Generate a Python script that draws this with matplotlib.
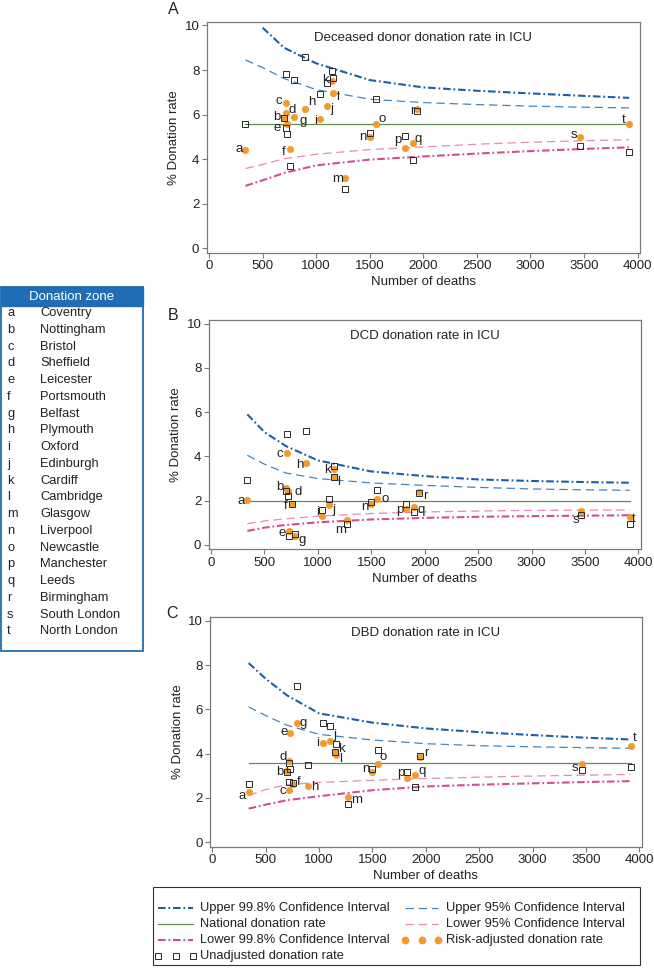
import numpy as np
import matplotlib
matplotlib.use('Agg')
import matplotlib.pyplot as plt
from matplotlib.lines import Line2D
from matplotlib.patches import Rectangle

plt.rcParams['font.family'] = ['Liberation Sans', 'DejaVu Sans']
plt.rcParams['lines.scale_dashes'] = False

# ---------------- data ----------------
zones = list('abcdefghijklmnopqrst')
zone_names = ['Coventry', 'Nottingham', 'Bristol', 'Sheffield', 'Leicester',
              'Portsmouth', 'Belfast', 'Plymouth', 'Oxford', 'Edinburgh',
              'Cardiff', 'Cambridge', 'Glasgow', 'Liverpool', 'Newcastle',
              'Manchester', 'Leeds', 'Birmingham', 'South London', 'North London']
deaths = [340, 700, 714, 722, 728, 757, 790, 893, 1038, 1100,
          1152, 1155, 1272, 1500, 1556, 1826, 1902, 1944, 3465, 3920]

ci_deaths = [340, 500, 700, 1000, 1500, 2000, 2500, 3000, 3500, 3920]

# Panel A: deceased donor donation rate
a_risk = [4.40, 5.85, 6.52, 6.07, 5.57, 4.46, 5.87, 6.24, 5.82, 6.38,
          7.50, 6.99, 3.16, 4.99, 5.57, 4.52, 4.73, 6.25, 5.01, 5.59]
a_unadj = [5.60, 5.85, 7.82, 5.38, 5.15, 3.70, 7.55, 8.60, 6.92, 7.40,
           7.95, 7.65, 2.65, 5.19, 6.69, 5.02, 3.96, 6.18, 4.59, 4.34]
a_national = 5.57
a_up998 = [np.nan, 9.9, 9.0, 8.3, 7.55, 7.22, 7.07, 6.95, 6.84, 6.75]
a_up95 = [8.45, 8.11, 7.62, 7.12, 6.69, 6.54, 6.45, 6.38, 6.33, 6.30]
a_lo95 = [3.58, 3.76, 4.02, 4.22, 4.43, 4.55, 4.67, 4.76, 4.83, 4.87]
a_lo998 = [2.80, 3.05, 3.38, 3.72, 3.98, 4.12, 4.25, 4.36, 4.46, 4.53]

# Panel B: DCD donation rate
b_risk = [2.05, 2.57, 4.15, 2.45, 0.62, 1.83, 0.42, 3.70, 1.31, 1.82,
          3.43, 3.05, 1.13, 1.85, 2.08, 1.62, 1.71, 2.41, 1.52, 1.26]
b_unadj = [2.92, 2.42, 5.03, 2.23, 0.39, 1.83, 0.50, 5.13, 1.56, 2.08,
           3.58, 3.05, 0.96, 1.95, 2.50, 1.86, 1.47, 2.35, 1.35, 0.96]
b_national = 1.98
b_up998 = [5.90, 5.10, 4.47, 3.82, 3.32, 3.11, 2.96, 2.89, 2.84, 2.81]
b_up95 = [4.05, 3.65, 3.25, 3.00, 2.80, 2.69, 2.60, 2.53, 2.49, 2.47]
b_lo95 = [0.96, 1.08, 1.18, 1.30, 1.42, 1.49, 1.53, 1.56, 1.57, 1.58]
b_lo998 = [0.63, 0.78, 0.90, 1.02, 1.15, 1.22, 1.27, 1.30, 1.32, 1.34]

# Panel C: DBD donation rate
c_risk = [2.25, 3.21, 2.38, 3.66, 4.93, 2.65, 5.39, 2.53, 4.47, 4.57,
          4.07, 3.94, 2.05, 3.15, 3.52, 2.91, 3.04, 3.85, 3.54, 4.34]
c_unadj = [2.65, 3.15, 2.71, 3.56, 3.31, 2.68, 7.07, 3.47, 5.39, 5.27,
           4.07, 4.42, 1.74, 3.30, 4.16, 3.18, 2.50, 3.90, 3.25, 3.40]
c_national = 3.58
c_up998 = [8.09, 7.38, 6.63, 5.82, 5.40, 5.14, 4.97, 4.84, 4.72, 4.64]
c_up95 = [6.11, 5.72, 5.28, 4.87, 4.62, 4.45, 4.36, 4.31, 4.27, 4.24]
c_lo95 = [2.12, 2.38, 2.60, 2.70, 2.80, 2.88, 2.94, 2.99, 3.03, 3.06]
c_lo998 = [1.52, 1.70, 1.90, 2.08, 2.35, 2.52, 2.60, 2.66, 2.72, 2.76]

x_ticks = [0, 500, 1000, 1500, 2000, 2500, 3000, 3500, 4000]
y_ticks = [0, 2, 4, 6, 8, 10]

# ---------------- style ----------------
W, H = 654, 968
FS = 9.5
C_UP998 = '#1b5fa6'
C_UP95 = '#3f86c6'
C_NAT = '#5b9150'
C_LO95 = '#e58bb9'
C_LO998 = '#cf4f97'
C_ORANGE = '#f39a2f'
C_SQ = '#2a2a2a'
C_TXT = '#222222'
DASHDOT = (5.5, 2.0, 1.3, 2.0)
DASH = (6.0, 3.5)

# label offsets (px, dx right, dy up) of the zone letter centre vs. risk-adjusted dot
off_a = {'a': (-6.3, 1), 'b': (-7.7, 0.7), 'c': (-6.3, 1.7), 'd': (5.7, 3.3),
         'e': (-9.7, -4), 'f': (-6, -3), 'g': (9, -3.7), 'h': (6.7, 7.3),
         'i': (-4.7, -2.3), 'j': (4.7, -2.7), 'k': (-7, 0.7), 'l': (4.7, -4.3),
         'm': (-8, -0.7), 'n': (-7, 0), 'o': (6.3, 5.3), 'p': (-6.7, 8),
         'q': (5.7, 4.3), 'r': (-5.3, -1.7), 's': (-6.3, 1.7), 't': (-5.7, 4)}
off_b = {'a': (-6.7, -1), 'b': (-6.3, 0.7), 'c': (-7.3, -1), 'd': (9.7, -1.7),
         'e': (-6.7, -2.3), 'f': (-6, -1.3), 'g': (7, -4.7), 'h': (-7, -1.7),
         'i': (-4.3, 3.7), 'j': (5.3, -5), 'k': (-6.3, -0.7), 'l': (4.3, -4.7),
         'm': (-6.7, -9.7), 'n': (-6, -3.3), 'o': (8.3, 0.3), 'p': (-6.7, -1.3),
         'q': (7.3, -3.3), 'r': (6.7, -4.7), 's': (-5.3, -9), 't': (4.3, -2)}
off_c = {'a': (-7, -4), 'b': (-7, -1), 'c': (-6, -1.7), 'd': (-6.7, 4),
         'e': (-6.3, 1), 'f': (5.3, 1.3), 'g': (7, 0), 'h': (6.7, -0.7),
         'i': (-6, 0), 'j': (5, 6.3), 'k': (5.7, 2.7), 'l': (5, -4),
         'm': (8.7, -3.3), 'n': (-6.3, 3.3), 'o': (5, 7.7), 'p': (-6.7, 5.3),
         'q': (7, 4), 'r': (6, 3.7), 's': (-7.3, -4.3), 't': (4.3, 7.7)}

fig = plt.figure(figsize=(W / 100, H / 100), dpi=100)


def fx(px):
    return px / W


def fy(py):
    return 1 - py / H


def panel(rect_px, risk, unadj, national, up998, up95, lo95, lo998,
          title, letter, letter_xy, offsets):
    l, t, r, b = rect_px
    ax = fig.add_axes([fx(l), fy(b), (r - l) / W, (b - t) / H])
    ax.plot(ci_deaths, up998, color=C_UP998, lw=1.5, dashes=DASHDOT)
    ax.plot(ci_deaths, up95, color=C_UP95, lw=0.9, dashes=DASH)
    ax.plot([min(deaths), max(deaths)], [national, national], color=C_NAT, lw=0.9)
    ax.plot(ci_deaths, lo95, color=C_LO95, lw=0.9, dashes=DASH)
    ax.plot(ci_deaths, lo998, color=C_LO998, lw=1.5, dashes=DASHDOT)
    ax.plot(deaths, risk, ls='none', marker='o', ms=4.6, mfc=C_ORANGE,
            mec=C_ORANGE, mew=0.5, zorder=4)
    ax.plot(deaths, unadj, ls='none', marker='s', ms=3.9, mfc='none',
            mec=C_SQ, mew=0.7, zorder=5)
    for i, z in enumerate(zones):
        dx, dy = offsets[z]
        ax.annotate(z, (deaths[i], risk[i]), xytext=(dx * 0.72, dy * 0.72),
                    textcoords='offset points', ha='center', va='center',
                    fontsize=FS, color=C_TXT, zorder=6)
    ax.set_xlim(-22, 4022)
    ax.set_ylim(-0.2, 10.17)
    ax.set_xticks(x_ticks)
    ax.set_yticks(y_ticks)
    for s in ax.spines.values():
        s.set_color('#7a7a7a')
        s.set_linewidth(0.9)
    ax.tick_params(direction='out', length=3.5, width=0.8, color='#7a7a7a',
                   labelsize=FS, labelcolor=C_TXT, pad=1.8)
    ax.set_xlabel('Number of deaths', fontsize=FS, color=C_TXT, labelpad=3)
    ax.set_ylabel('% Donation rate', fontsize=FS, color=C_TXT, labelpad=3)
    ax.text(0.5, 1 - 16 / (b - t), title, transform=ax.transAxes, ha='center',
            va='center', fontsize=FS, color=C_TXT)
    fig.text(fx(letter_xy[0]), fy(letter_xy[1]), letter, ha='center', va='center',
             fontsize=11.5, color=C_TXT)
    return ax


panel((206.7, 21.7, 640, 252.7), a_risk, a_unadj, a_national, a_up998, a_up95,
      a_lo95, a_lo998, 'Deceased donor donation rate in ICU', 'A', (173, 10), off_a)
panel((208.7, 320, 640.7, 549.3), b_risk, b_unadj, b_national, b_up998, b_up95,
      b_lo95, b_lo998, 'DCD donation rate in ICU', 'B', (173, 315), off_b)
panel((210, 617, 641.7, 846.7), c_risk, c_unadj, c_national, c_up998, c_up95,
      c_lo95, c_lo998, 'DBD donation rate in ICU', 'C', (172, 614), off_c)

# ---------------- zone table ----------------
BLUE = '#1f6db5'
fig.patches.append(Rectangle((fx(0.8), fy(651)), 142.5 / W, (651 - 287) / H,
                             transform=fig.transFigure, fill=False,
                             edgecolor=BLUE, lw=1.3))
fig.patches.append(Rectangle((fx(0.8), fy(306)), 142.5 / W, (306 - 287) / H,
                             transform=fig.transFigure, facecolor=BLUE,
                             edgecolor=BLUE, lw=1.0))
fig.text(fx(72), fy(297), 'Donation zone', ha='center', va='center',
         fontsize=9.5, color='white')
for i, (z, name) in enumerate(zip(zones, zone_names)):
    yy = 313.2 + i * 16.75
    fig.text(fx(7), fy(yy), z, ha='left', va='center', fontsize=9.3, color=C_TXT)
    fig.text(fx(40), fy(yy), name, ha='left', va='center', fontsize=9.3,
             color=C_TXT)

# ---------------- legend ----------------
fig.patches.append(Rectangle((fx(153), fy(965)), (640 - 153) / W, (965 - 887) / H,
                             transform=fig.transFigure, fill=False,
                             edgecolor='#333333', lw=0.8))
rows = [907.5, 923.7, 939.9, 955.5]
entries = [
    (0, 0, 'Upper 99.8% Confidence Interval', dict(color=C_UP998, lw=1.5, dashes=DASHDOT)),
    (1, 0, 'Upper 95% Confidence Interval', dict(color=C_UP95, lw=0.9, dashes=DASH)),
    (0, 1, 'National donation rate', dict(color=C_NAT, lw=0.9)),
    (1, 1, 'Lower 95% Confidence Interval', dict(color=C_LO95, lw=0.9, dashes=DASH)),
    (0, 2, 'Lower 99.8% Confidence Interval', dict(color=C_LO998, lw=1.5, dashes=DASHDOT)),
    (1, 2, 'Risk-adjusted donation rate', dict(ls='none', marker='o', ms=4.6,
                                               mfc=C_ORANGE, mec=C_ORANGE)),
    (0, 3, 'Unadjusted donation rate', dict(ls='none', marker='s', ms=3.9,
                                            mfc='none', mec=C_SQ, mew=0.7)),
]
cols = [(158, 193, 200), (405, 438, 446)]
for c, r, label, style in entries:
    x0, x1, xt = cols[c]
    yy = rows[r]
    if style.get('ls') == 'none':
        xs = [fx(x0), fx((x0 + x1) / 2), fx(x1)]
    else:
        xs = [fx(x0), fx(x1)]
    fig.add_artist(Line2D(xs, [fy(yy)] * len(xs), transform=fig.transFigure, **style))
    fig.text(fx(xt), fy(yy), label, ha='left', va='center', fontsize=9.3,
             color=C_TXT)

fig.savefig('out.png', dpi=100)
